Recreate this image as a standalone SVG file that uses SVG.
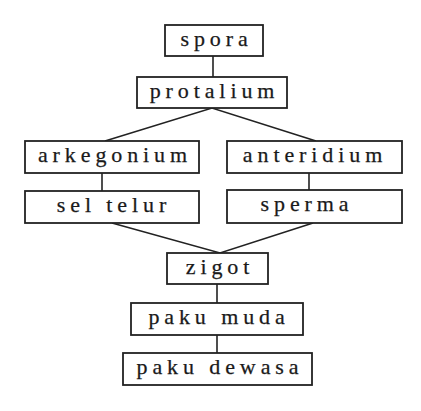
<svg xmlns="http://www.w3.org/2000/svg" width="421" height="411" viewBox="0 0 421 411">
<style>
.box{fill:#fff;stroke:#222;stroke-width:1.8}
.lbl{font-family:"Liberation Serif","Times New Roman",serif;font-size:22px;letter-spacing:4.9px;fill:#1a1a1a;text-anchor:middle;stroke:#1a1a1a;stroke-width:0.25}
.con{stroke:#222;stroke-width:1.6;fill:none}
</style>
<rect width="421" height="411" fill="#fff"/>
<g id="connectors">
<line class="con" x1="213" y1="56" x2="213" y2="77"/>
<polyline class="con" points="105,141 212,108 316,141"/>
<line class="con" x1="102" y1="173" x2="102" y2="191"/>
<line class="con" x1="309" y1="173" x2="309" y2="190"/>
<polyline class="con" points="112,223 220,253 313,223"/>
<line class="con" x1="217" y1="284" x2="217" y2="303"/>
<line class="con" x1="217" y1="335" x2="217" y2="353"/>
</g>
<g id="spora"><rect class="box" x="165" y="25" width="98" height="31"/><text class="lbl" x="216.5" y="46">spora</text></g>
<g id="protalium"><rect class="box" x="137" y="77" width="150" height="31"/><text class="lbl" x="214.5" y="98">protalium</text></g>
<g id="arkegonium"><rect class="box" x="25" y="141" width="174" height="32"/><text class="lbl" x="115" y="162">arkegonium</text></g>
<g id="anteridium"><rect class="box" x="227" y="141" width="175" height="32"/><text class="lbl" x="315" y="162">anteridium</text></g>
<g id="sel-telur"><rect class="box" x="25" y="191" width="174" height="32"/><text class="lbl" x="114" y="212">sel telur</text></g>
<g id="sperma"><rect class="box" x="227" y="190" width="175" height="33"/><text class="lbl" x="307" y="211">sperma</text></g>
<g id="zigot"><rect class="box" x="167" y="253" width="101" height="31"/><text class="lbl" x="220" y="274">zigot</text></g>
<g id="paku-muda"><rect class="box" x="131" y="303" width="172" height="32"/><text class="lbl" x="219" y="324">paku muda</text></g>
<g id="paku-dewasa"><rect class="box" x="123" y="353" width="189" height="32"/><text class="lbl" x="220" y="374">paku dewasa</text></g>
</svg>
